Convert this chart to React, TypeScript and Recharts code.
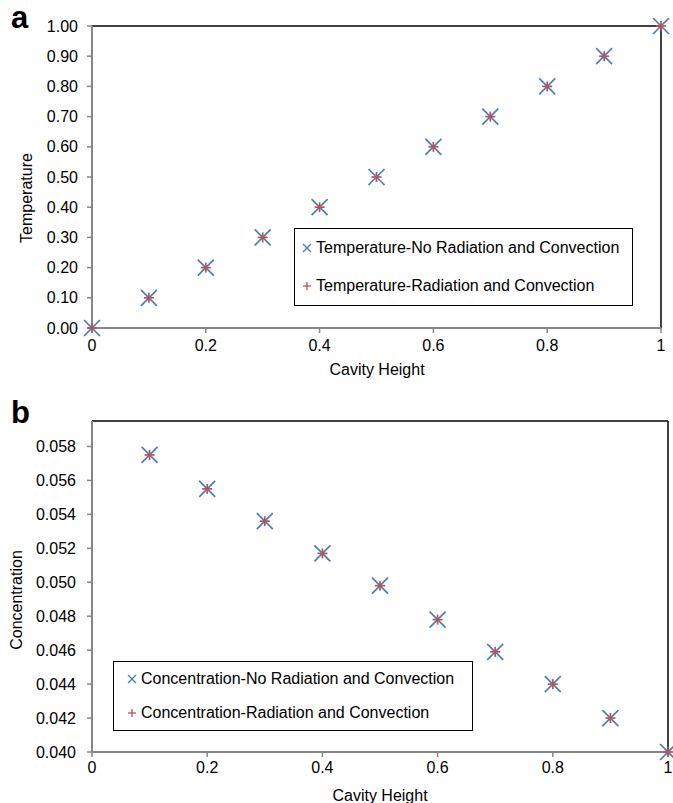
import { Legend, ReferenceLine, Scatter, ScatterChart, XAxis, YAxis } from 'recharts';

const FONT = '"Liberation Sans", Arial, Helvetica, sans-serif';
const BLUE = '#4a7ebb';
const RED = '#c0504d';
const AXIS_GRAY = '#868686';

// panel a
const tempHeight = [0, 0.1, 0.2, 0.3, 0.4, 0.5, 0.6, 0.7, 0.8, 0.9, 1];
const tempNoRad = [0, 0.1, 0.2, 0.3, 0.4, 0.5, 0.6, 0.7, 0.8, 0.9, 1];
const tempRad = [0, 0.1, 0.2, 0.3, 0.4, 0.5, 0.6, 0.7, 0.8, 0.9, 1];
const tempTicks = [0, 0.1, 0.2, 0.3, 0.4, 0.5, 0.6, 0.7, 0.8, 0.9, 1];

// panel b
const concHeight = [0.1, 0.2, 0.3, 0.4, 0.5, 0.6, 0.7, 0.8, 0.9, 1];
const concNoRad = [0.0575, 0.0555, 0.0536, 0.0517, 0.0498, 0.0478, 0.0459, 0.044, 0.042, 0.04];
const concRad = [0.0575, 0.0555, 0.0536, 0.0517, 0.0498, 0.0478, 0.0459, 0.044, 0.042, 0.04];
const concTicks = [0.04, 0.042, 0.044, 0.046, 0.048, 0.05, 0.052, 0.054, 0.056, 0.058];

const xTicks = [0, 0.2, 0.4, 0.6, 0.8, 1];

const toPoints = (xs: number[], ys: number[]) => xs.map((x, i) => ({ x, y: ys[i] }));

const XMark = (props: any) => {
  const { cx, cy } = props;
  const s = 8;
  return (
    <g>
      <line x1={cx - s} y1={cy - s} x2={cx + s} y2={cy + s} stroke={BLUE} strokeWidth={1.7} />
      <line x1={cx - s} y1={cy + s} x2={cx + s} y2={cy - s} stroke={BLUE} strokeWidth={1.7} />
    </g>
  );
};

const PlusMark = (props: any) => {
  const { cx, cy } = props;
  const s = 5;
  return (
    <g>
      <line x1={cx - s} y1={cy} x2={cx + s} y2={cy} stroke={RED} strokeWidth={1.7} />
      <line x1={cx} y1={cy - s} x2={cx} y2={cy + s} stroke={RED} strokeWidth={1.7} />
    </g>
  );
};

const LegendIcon = ({ kind }: { kind: 'x' | 'plus' }) => (
  <svg width={12} height={12} style={{ marginRight: 3, flexShrink: 0 }}>
    {kind === 'x' ? (
      <>
        <line x1={2} y1={2} x2={10} y2={10} stroke={BLUE} strokeWidth={1.3} />
        <line x1={2} y1={10} x2={10} y2={2} stroke={BLUE} strokeWidth={1.3} />
      </>
    ) : (
      <>
        <line x1={2} y1={6} x2={10} y2={6} stroke={RED} strokeWidth={1.3} />
        <line x1={6} y1={2} x2={6} y2={10} stroke={RED} strokeWidth={1.3} />
      </>
    )}
  </svg>
);

const LegendBox = ({ labels, width, height, padLeft }: { labels: string[]; width: number; height: number; padLeft: number }) => (
  <div
    style={{
      width,
      height,
      boxSizing: 'border-box',
      border: '1.5px solid #000',
      background: '#fff',
      display: 'flex',
      flexDirection: 'column',
      justifyContent: 'space-around',
      paddingLeft: padLeft,
      fontFamily: FONT,
      fontSize: 16,
      color: '#000',
    }}
  >
    {labels.map((label, i) => (
      <div key={label} style={{ display: 'flex', alignItems: 'center', whiteSpace: 'nowrap' }}>
        <LegendIcon kind={i === 0 ? 'x' : 'plus'} />
        <span>{label}</span>
      </div>
    ))}
  </div>
);

const tickStyle = { fill: '#000', fontSize: 16, fontFamily: FONT };

const overlayText = (text: string, style: React.CSSProperties) => (
  <div style={{ position: 'absolute', fontFamily: FONT, color: '#000', whiteSpace: 'nowrap', ...style }}>{text}</div>
);

export default function App() {
  const tempA = toPoints(tempHeight, tempNoRad);
  const tempB = toPoints(tempHeight, tempRad);
  const concA = toPoints(concHeight, concNoRad);
  const concB = toPoints(concHeight, concRad);

  return (
    <div style={{ position: 'absolute', left: 0, top: 0, width: 673, height: 803, background: '#fff', overflow: 'hidden' }}>
      {/* panel a */}
      <div style={{ position: 'absolute', left: 0, top: 0 }}>
        <ScatterChart width={673} height={390} margin={{ top: 26, right: 12, bottom: 0, left: 0 }}>
          <XAxis
            type="number"
            dataKey="x"
            domain={[0, 1]}
            ticks={xTicks}
            height={62}
            tick={tickStyle}
            tickSize={5}
            tickMargin={7}
            axisLine={{ stroke: AXIS_GRAY, strokeWidth: 2 }}
            tickLine={{ stroke: AXIS_GRAY, strokeWidth: 1.5 }}
          />
          <YAxis
            type="number"
            dataKey="y"
            domain={[0, 1]}
            ticks={tempTicks}
            width={92}
            tick={tickStyle}
            tickSize={5}
            tickMargin={9}
            tickFormatter={(v: number) => v.toFixed(2)}
            axisLine={{ stroke: AXIS_GRAY, strokeWidth: 2 }}
            tickLine={{ stroke: AXIS_GRAY, strokeWidth: 1.5 }}
          />
          <ReferenceLine y={1} stroke="#000" strokeWidth={1.5} />
          <ReferenceLine x={1} stroke="#000" strokeWidth={1.5} />
          <Scatter name="Temperature-No Radiation and Convection" data={tempA} fill={BLUE} shape={XMark} isAnimationActive={false} />
          <Scatter name="Temperature-Radiation and Convection" data={tempB} fill={RED} shape={PlusMark} isAnimationActive={false} />
          <Legend
            layout="vertical"
            align="center"
            verticalAlign="middle"
            wrapperStyle={{ left: 294, top: 228, width: 339, height: 78 }}
            content={() => (
              <LegendBox
                labels={['Temperature-No Radiation and Convection', 'Temperature-Radiation and Convection']}
                width={339}
                height={78}
                padLeft={6}
              />
            )}
          />
        </ScatterChart>
      </div>

      {/* panel b */}
      <div style={{ position: 'absolute', left: 0, top: 390 }}>
        <ScatterChart width={673} height={413} margin={{ top: 31, right: 5, bottom: 0, left: 0 }}>
          <XAxis
            type="number"
            dataKey="x"
            domain={[0, 1]}
            ticks={xTicks}
            height={51}
            tick={tickStyle}
            tickSize={5}
            tickMargin={5}
            axisLine={{ stroke: AXIS_GRAY, strokeWidth: 2 }}
            tickLine={{ stroke: AXIS_GRAY, strokeWidth: 1.5 }}
          />
          <YAxis
            type="number"
            dataKey="y"
            domain={[0.04, 0.0595]}
            ticks={concTicks}
            width={92}
            tick={tickStyle}
            tickSize={5}
            tickMargin={11}
            tickFormatter={(v: number) => v.toFixed(3)}
            axisLine={{ stroke: AXIS_GRAY, strokeWidth: 2 }}
            tickLine={{ stroke: AXIS_GRAY, strokeWidth: 1.5 }}
          />
          <ReferenceLine y={0.0595} stroke="#000" strokeWidth={1.5} />
          <ReferenceLine x={1} stroke="#000" strokeWidth={1.5} />
          <Scatter name="Concentration-No Radiation and Convection" data={concA} fill={BLUE} shape={XMark} isAnimationActive={false} />
          <Scatter name="Concentration-Radiation and Convection" data={concB} fill={RED} shape={PlusMark} isAnimationActive={false} />
          <Legend
            layout="vertical"
            align="center"
            verticalAlign="middle"
            wrapperStyle={{ left: 113, top: 271, width: 360, height: 70 }}
            content={() => (
              <LegendBox
                labels={['Concentration-No Radiation and Convection', 'Concentration-Radiation and Convection']}
                width={360}
                height={70}
                padLeft={12}
              />
            )}
          />
        </ScatterChart>
      </div>

      {overlayText('a', { left: 11, top: 0, fontSize: 31, fontWeight: 'bold' })}
      {overlayText('b', { left: 11, top: 395, fontSize: 31, fontWeight: 'bold' })}
      {overlayText('Cavity Height', { left: 377, top: 361, fontSize: 16, transform: 'translateX(-50%)' })}
      {overlayText('Cavity Height', { left: 380, top: 787, fontSize: 16, transform: 'translateX(-50%)' })}
      {overlayText('Temperature', {
        left: 27,
        top: 198,
        fontSize: 16,
        transform: 'translate(-50%, -50%) rotate(-90deg)',
      })}
      {overlayText('Concentration', {
        left: 17,
        top: 600,
        fontSize: 16,
        transform: 'translate(-50%, -50%) rotate(-90deg)',
      })}
    </div>
  );
}
